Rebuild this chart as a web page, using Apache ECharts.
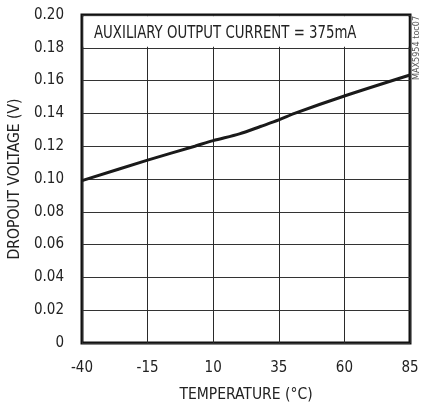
<!DOCTYPE html>
<html>
<head>
<meta charset="utf-8">
<script src="https://cdn.jsdelivr.net/npm/echarts@6/dist/echarts.min.js"></script>
<style>
html,body{margin:0;padding:0;background:#fff;}
#c{width:421px;height:402px;}
</style>
</head>
<body>
<div id="c"></div>
<script>
// Data
var temperature = [-40, -15, 3, 10, 20, 28, 35, 41, 60, 85];
var dropoutV = [0.099, 0.1115, 0.12, 0.1234, 0.1275, 0.132, 0.136, 0.14, 0.1506, 0.1634];
var xTickLabels = [-40, -15, 10, 35, 60, 85];
var yTickLabels = ['0', '0.02', '0.04', '0.06', '0.08', '0.10', '0.12', '0.14', '0.16', '0.18', '0.20'];
var xMin = -40;

var FONT = "'DejaVu Sans Condensed', 'Liberation Sans Narrow', sans-serif";

var chart = echarts.init(document.getElementById('c'));
var pts = temperature.map(function (t, i) { return [t - xMin, dropoutV[i]]; });

chart.setOption({
  animation: false,
  backgroundColor: '#fff',
  grid: {
    left: 82, right: 11, top: 15, bottom: 59,
    outerBoundsMode: 'none', containLabel: false,
    show: true, borderColor: '#111', borderWidth: 3, backgroundColor: 'transparent'
  },
  xAxis: {
    type: 'value', min: 0, max: 125, interval: 25,
    name: 'TEMPERATURE (°C)', nameLocation: 'middle', nameGap: 44,
    nameTextStyle: { fontFamily: FONT, fontSize: 15.5, color: '#222' },
    axisLine: { show: false },
    axisTick: { show: false },
    axisLabel: {
      margin: 18, fontFamily: FONT, fontSize: 15, color: '#222',
      formatter: function (v) { return String(xTickLabels[Math.round(v / 25)]); }
    },
    splitLine: { show: true, lineStyle: { color: '#2a2a2a', width: 1 } }
  },
  yAxis: {
    type: 'value', min: 0, max: 0.2, interval: 0.02,
    name: 'DROPOUT VOLTAGE (V)', nameLocation: 'middle', nameGap: 53,
    nameTextStyle: { fontFamily: FONT, fontSize: 15.5, color: '#222' },
    axisLine: { show: false },
    axisTick: { show: false },
    axisLabel: {
      margin: 18, fontFamily: FONT, fontSize: 15, color: '#222',
      formatter: function (v) { return yTickLabels[Math.round(v / 0.02)]; }
    },
    splitLine: { show: true, lineStyle: { color: '#333', width: 1 } }
  },
  series: [{
    type: 'line',
    data: pts,
    showSymbol: false,
    smooth: 0.3,
    lineStyle: { color: '#1a1a1a', width: 3 },
    markArea: {
      silent: true,
      itemStyle: { color: '#fff' },
      data: [[{ xAxis: 0.6, yAxis: 0.18 + 0.0006 }, { xAxis: 124.4, yAxis: 0.1992 }]]
    }
  }],
  graphic: [
    {
      type: 'text', x: 94, y: 25, scaleX: 0.87, z: 100,
      style: { text: 'AUXILIARY OUTPUT CURRENT = 375mA', fontFamily: FONT, fontSize: 17, fill: '#222' }
    },
    {
      type: 'text', x: 417, y: 80, rotation: Math.PI / 2, z: 100,
      style: { text: 'MAX5954 toc07', fontFamily: FONT, fontSize: 9, fill: '#555', align: 'left', verticalAlign: 'middle' }
    }
  ]
});
</script>
</body>
</html>
